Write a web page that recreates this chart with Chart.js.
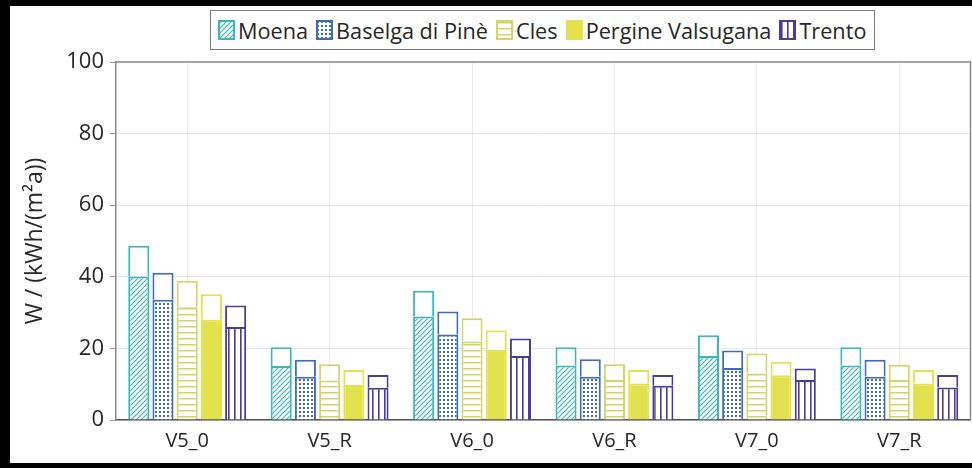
<!DOCTYPE html>
<html>
<head>
<meta charset="utf-8">
<script src="https://cdn.jsdelivr.net/npm/chart.js@4.4.0/dist/chart.umd.min.js"></script>
<style>
  html, body { margin: 0; padding: 0; background: #000; width: 972px; height: 468px; overflow: hidden; }
  #frame { position: absolute; left: 10px; top: 6px; width: 962px; height: 457px; background: #fff; }
  #chart { position: absolute; left: 0; top: 0; }
  #legend {
    position: absolute; left: 200px; top: 4px; height: 40px; box-sizing: border-box;
    border: 1.5px solid #7a7a7a; background: #fff;
    display: flex; align-items: center; padding: 0 8px 0 7px;
    font: 21.7px "Open Sans", sans-serif; color: #262626; white-space: nowrap;
  }
  .item { display: flex; align-items: center; margin-right: 8px; }
  .item:last-child { margin-right: 0; }
  .item canvas { margin-right: 3px; }
</style>
</head>
<body>
<div id="frame">
  <canvas id="chart" width="962" height="457"></canvas>
  <div id="legend"></div>
</div>
<script>
// Variants (x categories)
const categories = ['V5_0', 'V5_R', 'V6_0', 'V6_R', 'V7_0', 'V7_R'];
const locations = ['Moena', 'Baselga di Pinè', 'Cles', 'Pergine Valsugana', 'Trento'];

// Lower (patterned) part of each bar, kWh/(m²a)
const baseMoena    = [40.1, 15.1, 28.9, 15.2, 17.9, 15.2];
const baseBaselga  = [33.6, 12.1, 23.9, 12.1, 14.5, 12.1];
const baseCles     = [31.5, 11.0, 21.9, 11.2, 13.0, 11.2];
const basePergine  = [28.0,  9.8, 19.6, 10.2, 12.5, 10.2];
const baseTrento   = [26.0,  9.0, 17.9,  9.6, 11.2,  9.1];

// Total height of each bar, kWh/(m²a)
const totalMoena   = [48.7, 20.3, 36.1, 20.3, 23.7, 20.3];
const totalBaselga = [41.1, 16.8, 30.3, 17.0, 19.4, 16.8];
const totalCles    = [38.9, 15.6, 28.4, 15.6, 18.6, 15.4];
const totalPergine = [35.1, 14.0, 25.1, 14.0, 16.3, 14.0];
const totalTrento  = [32.0, 12.6, 22.8, 12.6, 14.4, 12.6];

const bases  = [baseMoena, baseBaselga, baseCles, basePergine, baseTrento];
const totals = [totalMoena, totalBaselga, totalCles, totalPergine, totalTrento];
const colors = ['#3ab8b8', '#3d6cc2', '#d4d46a', '#e2e24e', '#4a3c9c'];
const kinds  = ['diag', 'dots', 'hlines', 'solid', 'vlines'];

function makePattern(kind, color) {
  if (kind === 'solid') return color;
  const t = document.createElement('canvas');
  const s = kind === 'dots' ? 4 : (kind === 'diag' ? 5 : 6);
  t.width = s; t.height = s;
  const g = t.getContext('2d');
  g.fillStyle = '#fff';
  g.fillRect(0, 0, s, s);
  g.fillStyle = color;
  g.strokeStyle = color;
  if (kind === 'diag') {
    g.lineWidth = 1.2;
    g.beginPath();
    g.moveTo(0, s); g.lineTo(s, 0);
    g.moveTo(-1, 1); g.lineTo(1, -1);
    g.moveTo(s - 1, s + 1); g.lineTo(s + 1, s - 1);
    g.stroke();
  } else if (kind === 'dots') {
    g.fillRect(1, 1, 2, 2);
  } else if (kind === 'hlines') {
    g.fillRect(0, 2, s, 1.5);
  } else if (kind === 'vlines') {
    g.fillRect(2, 0, 1.6, s);
  }
  return g.createPattern(t, 'repeat');
}

const patterns = kinds.map((k, i) => makePattern(k, colors[i]));

const barOpts = { borderWidth: 2, barPercentage: 0.87, categoryPercentage: 0.85 };
const datasets = [];
locations.forEach((loc, i) => {
  datasets.push(Object.assign({
    label: loc,
    data: bases[i],
    backgroundColor: patterns[i],
    borderColor: colors[i],
    stack: 's' + i
  }, barOpts));
});
locations.forEach((loc, i) => {
  datasets.push(Object.assign({
    label: loc,
    data: totals[i].map((v, j) => +(v - bases[i][j]).toFixed(2)),
    backgroundColor: '#ffffff',
    borderColor: colors[i],
    stack: 's' + i
  }, barOpts));
});

// Legend with pattern swatches
const legend = document.getElementById('legend');
locations.forEach((loc, i) => {
  const item = document.createElement('div');
  item.className = 'item';
  const sw = document.createElement('canvas');
  sw.width = 17; sw.height = 20;
  const g = sw.getContext('2d');
  g.fillStyle = makePattern(kinds[i], colors[i]);
  g.fillRect(1, 1, 15, 18);
  g.strokeStyle = colors[i];
  g.lineWidth = 2;
  g.strokeRect(1, 1, 15, 18);
  const tx = document.createElement('span');
  tx.textContent = loc;
  item.appendChild(sw);
  item.appendChild(tx);
  legend.appendChild(item);
});

// Frame on top and right of the plot area
const plotFrame = {
  id: 'plotFrame',
  beforeDatasetsDraw(chart) {
    const a = chart.chartArea, c = chart.ctx;
    c.save();
    c.strokeStyle = '#8a8a8a';
    c.lineWidth = 1.5;
    c.beginPath();
    c.moveTo(a.left, a.top); c.lineTo(a.right, a.top); c.lineTo(a.right, a.bottom);
    c.stroke();
    c.restore();
  }
};

const font = '"Open Sans", sans-serif';
new Chart(document.getElementById('chart'), {
  type: 'bar',
  data: { labels: categories, datasets },
  options: {
    responsive: false,
    animation: false,
    layout: { padding: { top: 56, right: 1.5, left: 0, bottom: 0 } },
    plugins: { legend: { display: false }, tooltip: { enabled: false } },
    scales: {
      x: {
        stacked: true,
        grid: { offset: false, color: '#e9e9e9', drawTicks: false },
        border: { display: true, color: '#555', width: 1.5 },
        ticks: { font: { family: font, size: 20 }, color: '#262626', padding: 9 },
        afterFit(s) { s.height = 43; }
      },
      y: {
        stacked: true,
        min: 0, max: 100,
        ticks: { stepSize: 20, font: { family: font, size: 22 }, color: '#262626', padding: 6 },
        grid: { color: '#e6e6e6', tickLength: 6, tickColor: '#999' },
        border: { display: true, color: '#888', width: 1.5 },
        title: {
          display: true, text: 'W / (kWh/(m²a))',
          font: { family: font, size: 23 }, color: '#262626',
          padding: { top: 12, bottom: 0 }
        },
        afterFit(s) { s.width = 106; }
      }
    }
  },
  plugins: [plotFrame]
});
</script>
</body>
</html>
